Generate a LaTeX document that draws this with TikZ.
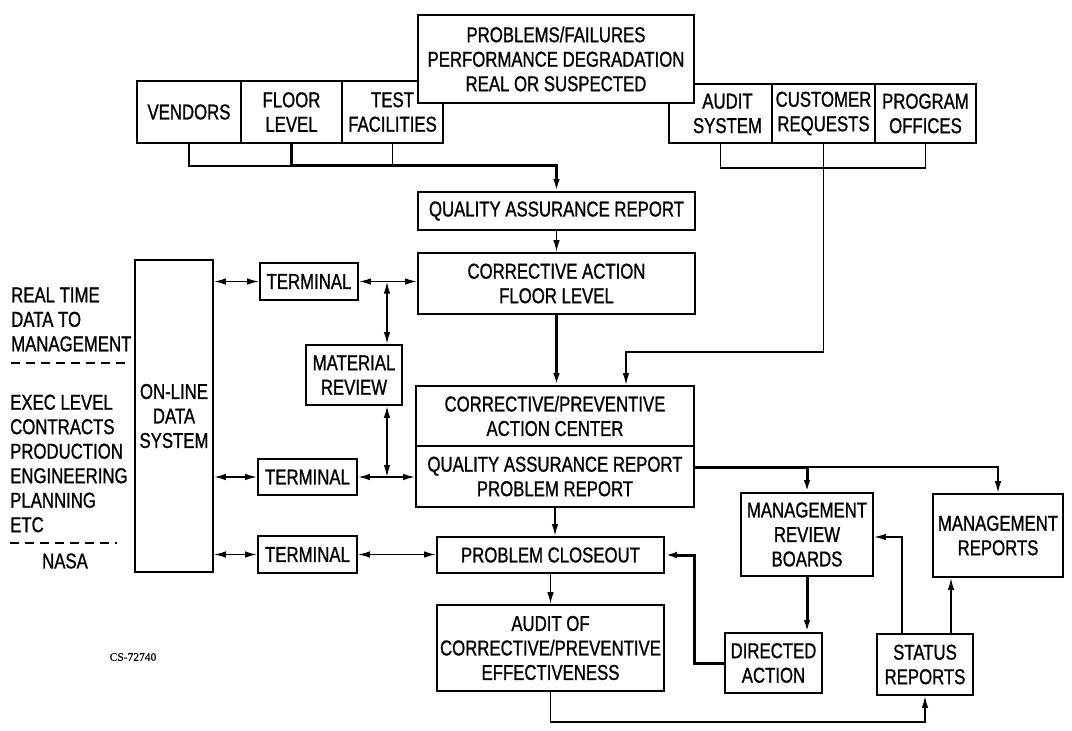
\documentclass[tikz,border=0pt]{standalone}
\usepackage{fontspec}
\setmainfont{Liberation Sans}[FakeStretch=0.78,FakeBold=1]
\newfontfamily\tagfont{Liberation Serif}[FakeBold=0.5]
\usetikzlibrary{arrows.meta}
\begin{document}
\begin{tikzpicture}[x=1pt,y=-1pt,
  txt/.style={font=\fontsize{21.5}{24.5}\selectfont},
  box/.style={draw, line width=1.8pt, fill=white, inner sep=0pt, align=center, txt},
  wire/.style={line width=1.6pt},
  heavy/.style={line width=3pt},
  tip/.tip={Latex[length=12pt,width=6.5pt]},
  arr/.style={-tip},
  darr/.style={tip-tip},
  side/.style={txt, align=left, inner sep=0pt},
  sep/.style={line width=1.4pt, dash pattern=on 9pt off 6pt}
]
\useasboundingbox (0,0) rectangle (1072,731);

% source boxes (drawn first, the problem box overlaps them)
\node[box, minimum width=104, minimum height=62] (vend)  at (189,112)   {VENDORS};
\node[box, minimum width=101, minimum height=62] (floor) at (291.5,112) {FLOOR\\LEVEL};
\node[box, minimum width=101, minimum height=62] (test)  at (392.5,112) {TEST\\FACILITIES};
\node[box, minimum width=103, minimum height=59] (audit) at (720.5,113.5) {\hspace*{14pt}AUDIT\\\hspace*{14pt}SYSTEM};
\node[box, minimum width=103, minimum height=59] (cust)  at (823.5,113.5) {CUSTOMER\\REQUESTS};
\node[box, minimum width=101, minimum height=59] (prog)  at (925.5,113.5) {PROGRAM\\OFFICES};
\node[box, minimum width=276, minimum height=88] (prob)  at (556,59)
  {PROBLEMS/FAILURES\\PERFORMANCE DEGRADATION\\REAL OR SUSPECTED};

% main column
\node[box, minimum width=277, minimum height=38] (qar)  at (556.5,211)   {QUALITY ASSURANCE REPORT};
\node[box, minimum width=277, minimum height=61] (cafl) at (556.5,283.5) {CORRECTIVE ACTION\\FLOOR LEVEL};
\node[box, minimum width=278, minimum height=60] (cpac) at (555,416)     {CORRECTIVE/PREVENTIVE\\ACTION CENTER};
\node[box, minimum width=278, minimum height=61] (qapr) at (555,476.5)   {QUALITY ASSURANCE REPORT\\PROBLEM REPORT};
\node[box, minimum width=227, minimum height=36] (close)   at (550.5,555) {PROBLEM CLOSEOUT};
\node[box, minimum width=227, minimum height=86] (auditof) at (550.5,648)
  {AUDIT OF\\CORRECTIVE/PREVENTIVE\\EFFECTIVENESS};

% data system and terminals
\node[box, minimum width=78, minimum height=312] (online) at (174,416) {ON-LINE\\DATA\\SYSTEM};
\node[box, minimum width=98, minimum height=37] (t1) at (309,281.5)   {TERMINAL};
\node[box, minimum width=99, minimum height=36] (t2) at (307.5,477)   {TERMINAL};
\node[box, minimum width=99, minimum height=37] (t3) at (307.5,554.5) {TERMINAL};
\node[box, minimum width=96, minimum height=60] (mr) at (354,375)     {MATERIAL\\REVIEW};

% management side
\node[box, minimum width=132, minimum height=83] (mrb)  at (807,534.5) {MANAGEMENT\\REVIEW\\BOARDS};
\node[box, minimum width=130, minimum height=83] (mrep) at (998,535.5) {MANAGEMENT\\REPORTS};
\node[box, minimum width=97, minimum height=60]  (dir)  at (773.5,663)  {DIRECTED\\ACTION};
\node[box, minimum width=96, minimum height=61]  (stat) at (925,664.5)  {STATUS\\REPORTS};

% left-hand legend
\node[side, anchor=west] (rtd)  at (11,319.5) {REAL TIME\\DATA TO\\MANAGEMENT};
\node[side, anchor=west] (exec) at (10,463.5) {EXEC LEVEL\\CONTRACTS\\PRODUCTION\\ENGINEERING\\PLANNING\\ETC};
\node[txt, inner sep=0pt] (nasa) at (65,561) {NASA};
\coordinate (s1a) at (11,363);  \coordinate (s1b) at (126,363);
\coordinate (s2a) at (10,543);  \coordinate (s2b) at (117,543);
\draw[sep] (s1a) -- (s1b);
\draw[sep] (s2a) -- (s2b);
\node[font=\tagfont\fontsize{11.5}{13}\selectfont, inner sep=0pt] (tag) at (133,657) {CS-72740};

% collecting brackets
\draw[wire] (vend.south) -- ++(0,22) -| (test.south);
\draw[heavy,arr] (floor.south) -- ++(0,22) -| (qar.north);
\draw[wire] (audit.south) -- ++(0,24) -| (prog.south);
\draw[wire,arr] (cust.south) -- ++(0,208) -| ([xshift=71pt]cpac.north);

% main flow
\draw[wire,arr]  (qar.south) -- (cafl.north);
\draw[heavy,arr] (cafl.south) -- (cafl.south |- cpac.north);
\draw[wire,arr]  (qapr.south) -- (qapr.south |- close.north);
\draw[wire,arr]  (close.south) -- (close.south |- auditof.north);

% terminal links
\coordinate (j1) at (387,281.5);
\coordinate (j2) at (387,477);
\draw[wire,darr] (online.east |- t1.west) -- (t1.west);
\draw[wire,darr] (t1.east) -- (t1.east -| cafl.west);
\draw[wire,darr] (j1) -- (j1 |- mr.north);
\draw[wire,darr] (j1 |- mr.south) -- (j2);
\draw[wire,darr] (online.east |- t2.west) -- (t2.west);
\draw[wire,darr] (t2.east) -- (t2.east -| qapr.west);
\draw[wire,darr] (online.east |- t3.west) -- (t3.west);
\draw[wire,darr] (t3.east) -- (t3.east -| close.west);

% reports to management
\draw[heavy,arr] ([yshift=9.5pt]qapr.east) -| (mrb.north);
\draw[wire,arr]  ([yshift=9.5pt]qapr.east -| mrb.north) -| (mrep.north);
\draw[heavy,arr] (mrb.south) -- (mrb.south |- dir.north);
\draw[heavy,arr] (dir.west) -- ++(-30,0) |- (close.east);
\draw[wire,arr]  ([xshift=-23pt]stat.north) |- ([yshift=-2.5pt]mrb.east);
\draw[wire,arr]  ([xshift=26pt]stat.north) -- ([xshift=26pt]stat.north |- mrep.south);
\draw[wire,arr]  (auditof.south) -- ++(0,30) -| (stat.south);
\end{tikzpicture}
\end{document}
